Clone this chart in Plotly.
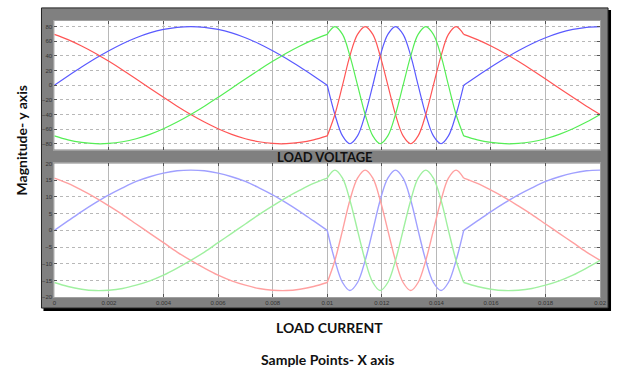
import plotly.graph_objects as go

W, H = 619, 376

# sample times (s)
sample_time = [0, 0.0005, 0.001, 0.0015, 0.002, 0.0025, 0.003, 0.0035, 0.004, 0.0045,
               0.005, 0.0055, 0.006, 0.0065, 0.007, 0.0075, 0.008, 0.0085, 0.009, 0.0095, 0.01,
               0.01028, 0.01056, 0.01083, 0.01111, 0.01139, 0.01167, 0.01194, 0.01222, 0.0125,
               0.01278, 0.01306, 0.01333, 0.01361, 0.01389, 0.01417, 0.01444, 0.01472, 0.015,
               0.0155, 0.016, 0.0165, 0.017, 0.0175, 0.018, 0.0185, 0.019, 0.0195, 0.02]

# LOAD VOLTAGE
voltage_a = [0, 12.5, 24.7, 36.3, 47.0, 56.6, 64.7, 71.3, 76.1, 79.0, 80, 79.0, 76.1, 71.3, 64.7, 56.6, 47.0, 36.3, 24.7, 12.5, 0,
             -40, -69.3, -80, -69.3, -40, 0, 40, 69.3, 80, 69.3, 40, 0, -40, -69.3, -80, -69.3, -40, 0,
             12.5, 24.7, 36.3, 47.0, 56.6, 64.7, 71.3, 76.1, 79.0, 80]
voltage_b = [69.3, 62.2, 53.5, 43.6, 32.5, 20.7, 8.4, -4.2, -16.6, -28.7, -40, -50.3, -59.4, -67.1, -73.1, -77.3, -79.6, -79.9, -78.2, -74.7, -69.3,
             -40, 0, 40, 69.3, 80, 69.3, 40, 0, -40, -69.3, -80, -69.3, -40, 0, 40, 69.3, 80, 69.3,
             62.2, 53.5, 43.6, 32.5, 20.7, 8.4, -4.2, -16.6, -28.7, -40]
voltage_c = [-69.3, -74.7, -78.2, -79.9, -79.6, -77.3, -73.1, -67.1, -59.4, -50.3, -40, -28.7, -16.6, -4.2, 8.4, 20.7, 32.5, 43.6, 53.5, 62.2, 69.3,
             80, 69.3, 40, 0, -40, -69.3, -80, -69.3, -40, 0, 40, 69.3, 80, 69.3, 40, 0, -40, -69.3,
             -74.7, -78.2, -79.9, -79.6, -77.3, -73.1, -67.1, -59.4, -50.3, -40]

# LOAD CURRENT
current_a = [0, 2.8, 5.6, 8.2, 10.6, 12.7, 14.6, 16.0, 17.1, 17.8, 18, 17.8, 17.1, 16.0, 14.6, 12.7, 10.6, 8.2, 5.6, 2.8, 0,
             -9, -15.6, -18, -15.6, -9, 0, 9, 15.6, 18, 15.6, 9, 0, -9, -15.6, -18, -15.6, -9, 0,
             2.8, 5.6, 8.2, 10.6, 12.7, 14.6, 16.0, 17.1, 17.8, 18]
current_b = [15.6, 14.0, 12.0, 9.8, 7.3, 4.7, 1.9, -0.9, -3.7, -6.5, -9.0, -11.3, -13.4, -15.1, -16.4, -17.4, -17.9, -18.0, -17.6, -16.8, -15.6,
             -9, 0, 9, 15.6, 18, 15.6, 9, 0, -9, -15.6, -18, -15.6, -9, 0, 9, 15.6, 18, 15.6,
             14.0, 12.0, 9.8, 7.3, 4.7, 1.9, -0.9, -3.7, -6.5, -9.0]
current_c = [-15.6, -16.8, -17.6, -18.0, -17.9, -17.4, -16.4, -15.1, -13.4, -11.3, -9.0, -6.5, -3.7, -0.9, 1.9, 4.7, 7.3, 9.8, 12.0, 14.0, 15.6,
             18, 15.6, 9, 0, -9, -15.6, -18, -15.6, -9, 0, 9, 15.6, 18, 15.6, 9, 0, -9, -15.6,
             -16.8, -17.6, -18.0, -17.9, -17.4, -16.4, -15.1, -13.4, -11.3, -9.0]

# segment boundaries (index ranges, where waveform has kinks)
segments = [(0, 21), (20, 39), (38, 49)]

x_tick_values = [0, 0.002, 0.004, 0.006, 0.008, 0.01, 0.012, 0.014, 0.016, 0.018, 0.02]
x_tick_labels = ["0", "0.002", "0.004", "0.006", "0.008", "0.01", "0.012", "0.014", "0.016", "0.018", "0.02"]
v_ticks = [-80, -60, -40, -20, 0, 20, 40, 60, 80]
i_ticks = [-20, -15, -10, -5, 0, 5, 10, 15, 20]

top_colors = ["#5a5aff", "#ff5555", "#55ee55"]
bot_colors = ["#a0a0ff", "#ffa0a0", "#a0f0a0"]

fig = go.Figure()

def add_series(ys, color, xa, ya, width):
    for s0, s1 in segments:
        fig.add_trace(go.Scatter(x=sample_time[s0:s1], y=ys[s0:s1], mode="lines",
                                 line=dict(color=color, width=width, shape="spline"),
                                 xaxis=xa, yaxis=ya, showlegend=False, hoverinfo="skip"))

for ys, c in zip([voltage_a, voltage_b, voltage_c], top_colors):
    add_series(ys, c, "x", "y", 1.2)
for ys, c in zip([current_a, current_b, current_c], bot_colors):
    add_series(ys, c, "x2", "y2", 1.4)

def px_x(p):
    return p / W

def px_y(p):
    return 1 - p / H

xdom = [px_x(53), px_x(606)]
top_dom = [px_y(149), px_y(18)]
bot_dom = [px_y(299), px_y(163)]

grid_col = "#b8b8b8"
tickfont = dict(size=6, color="#333333", family="Liberation Sans")
tick_style = dict(ticks="inside", ticklen=3, tickcolor="#555555", mirror="ticks",
                  showline=True, linecolor="#a0a0a0", zeroline=False, showgrid=True,
                  gridcolor=grid_col)

fig.update_layout(
    width=W, height=H,
    margin=dict(l=0, r=0, t=0, b=0),
    paper_bgcolor="white",
    plot_bgcolor="rgba(0,0,0,0)",
    xaxis=dict(domain=xdom, anchor="y", range=[0, 0.02], tickvals=x_tick_values,
               showticklabels=False, **tick_style),
    yaxis=dict(domain=top_dom, anchor="x", range=[-88, 88], tickvals=v_ticks,
               tickfont=tickfont, griddash="dot", **tick_style),
    xaxis2=dict(domain=xdom, anchor="y2", range=[0, 0.02], tickvals=x_tick_values,
                ticktext=x_tick_labels, tickfont=tickfont, **tick_style),
    yaxis2=dict(domain=bot_dom, anchor="x2", range=[-20, 20], tickvals=i_ticks,
                tickfont=tickfont, griddash="dot", **tick_style),
)

shapes = [
    # shadow border
    dict(type="rect", xref="paper", yref="paper", x0=px_x(42), x1=px_x(617), y0=px_y(313), y1=px_y(7),
         fillcolor="black", line=dict(width=0), layer="below"),
    # gray frame
    dict(type="rect", xref="paper", yref="paper", x0=px_x(40), x1=px_x(614), y0=px_y(310), y1=px_y(5),
         fillcolor="#808080", line=dict(color="#222222", width=1), layer="below"),
    # white plot areas
    dict(type="rect", xref="x domain", yref="y domain", x0=0, x1=1, y0=0, y1=1,
         fillcolor="white", line=dict(width=0), layer="below"),
    dict(type="rect", xref="x2 domain", yref="y2 domain", x0=0, x1=1, y0=0, y1=1,
         fillcolor="white", line=dict(width=0), layer="below"),
]
fig.update_layout(shapes=shapes)

def label(text, x, y, size, angle=0):
    fig.add_annotation(text=text, x=px_x(x), y=px_y(y), xref="paper", yref="paper",
                       xanchor="center", yanchor="middle", showarrow=False, textangle=angle,
                       font=dict(family="Lato", size=size, color="#111111"))

label("<b>LOAD VOLTAGE</b>", 327, 156, 13)
label("<b>LOAD CURRENT</b>", 332, 330, 14)
label("<b>Sample Points- X axis</b>", 330, 362, 14)
label("<b>Magnitude- y axis</b>", 20, 140, 14, -90)

fig.write_html("out.html", config={"displayModeBar": False},
               post_script="document.body.style.margin='0px';")
